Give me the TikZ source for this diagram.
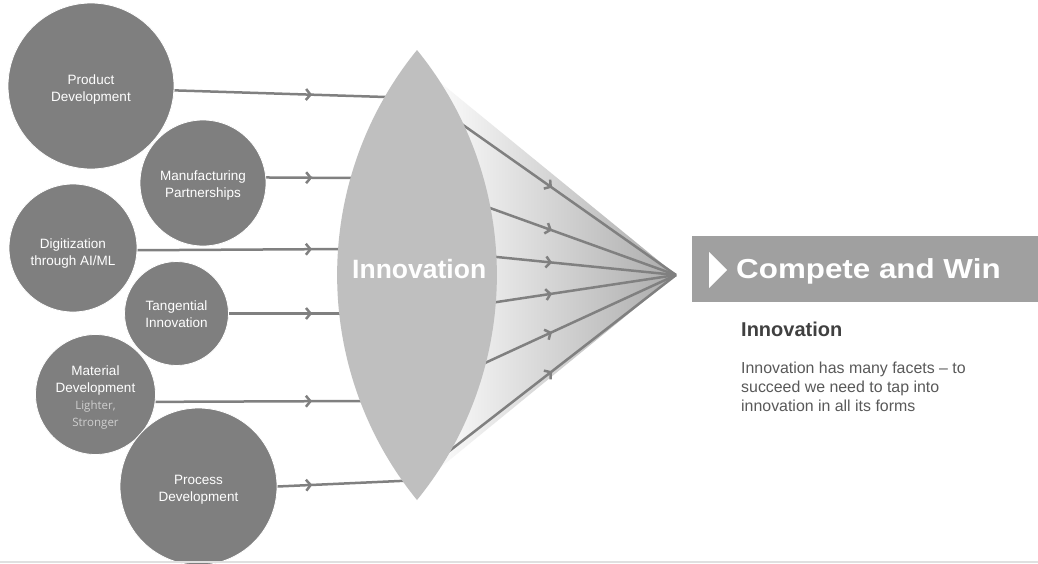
\documentclass[tikz,border=0pt]{standalone}
\usepackage{fontspec}
\setmainfont{Liberation Sans}
\newfontfamily\osans{Open Sans}
\newcommand{\subtextfont}{\osans\fontsize{11.5}{15}\selectfont\color{subgray}}
\newcommand{\lift}[1]{\rule{0pt}{#1pt}}
\usetikzlibrary{arrows.meta,decorations.markings}
\definecolor{circgray}{HTML}{7F7F7F}
\definecolor{linegray}{HTML}{808080}
\definecolor{lensgray}{HTML}{BFBFBF}
\definecolor{bannergray}{HTML}{A0A0A0}
\definecolor{headgray}{HTML}{404040}
\definecolor{bodygray}{HTML}{595959}
\definecolor{subgray}{HTML}{CFCFCF}
\definecolor{rulegray}{HTML}{E0E0E0}
\pgfdeclarelayer{fanlayer}
\pgfdeclarelayer{linelayer}
\pgfsetlayers{fanlayer,linelayer,main}
\begin{document}
\begin{tikzpicture}[x=1pt,y=-1pt,
  bubble/.style={circle, fill=circgray, draw=white, line width=0.8pt, inner sep=0pt,
    minimum size=#1, text=white, align=center, font=\fontsize{13.5}{17}\selectfont},
  conn/.style={draw=linegray, line width=2.5pt},
  midarrow/.style={postaction={decorate}, decoration={markings,
    mark=at position #1 with {\arrow{Straight Barb[length=4.5pt,width=11pt]}}}}
]
\useasboundingbox (0,0) rectangle (1038,563);
\begin{pgfonlayer}{fanlayer}
  \fill[white] (0,0) rectangle (1038,563);
\end{pgfonlayer}

% source bubbles
\node[bubble=166pt] (pd) at (91,86) {\lift{16}Product\\Development};
\node[bubble=126pt] (mp) at (203,183) {\lift{15.5}Manufacturing\\Partnerships};
\node[bubble=128pt] (dg) at (73,248) {\lift{21.5}Digitization\\through AI/ML};
\node[bubble=104pt] (ti) at (176.5,313.5) {\lift{11.5}Tangential\\Innovation};
\node[bubble=120pt] (md) at (95.5,394.5) {\lift{15.5}Material\\Development\\{\subtextfont Lighter,}\\{\subtextfont Stronger}};
\node[bubble=157pt] (pr) at (198.5,486.5) {\lift{15.5}Process\\Development};

% lens
\coordinate (ltop) at (417,50);
\coordinate (lbot) at (417,500);
\coordinate (apex) at (676,275);
\fill[lensgray] (ltop) .. controls (523.5,180.8) and (523.5,369.2) .. (lbot)
   .. controls (310.5,369.2) and (310.5,180.8) .. (ltop) -- cycle;
\node[anchor=base, inner sep=0pt, text=white, font=\bfseries\fontsize{26.5}{30}\selectfont] (inno) at (419.2,278.3) {Innovation};

% fan shading
\begin{pgfonlayer}{fanlayer}
  \shade[left color=white, right color=black!33] (425,70) -- (apex) -- (425,480) -- cycle;
\end{pgfonlayer}

% left connector ends (inside lens)
\coordinate (e1) at (392,97.2);
\coordinate (e2) at (356,178);
\coordinate (e3) at (345,249);
\coordinate (e4) at (345,313.5);
\coordinate (e5) at (362,401);
\coordinate (e6) at (406,480.7);
% fan starts (inside lens)
\coordinate (s1) at (456.5,120.4);
\coordinate (s2) at (482.5,205.3);
\coordinate (s3) at (489,256.2);
\coordinate (s4) at (489,303.2);
\coordinate (s5) at (479.7,365.4);
\coordinate (s6) at (441.7,456.9);

\begin{pgfonlayer}{linelayer}
  \path[conn, midarrow=0.633] (pd.-3) -- (e1);
  \path[conn, midarrow=0.513] (mp.5) -- (e2);
  \path[conn, midarrow=0.841] (dg.-2) -- (e3);
  \path[conn, midarrow=0.717] (ti.0) -- (e4);
  \path[conn, midarrow=0.758] (md.-7) -- (e5);
  \path[conn, midarrow=0.271] (pr.0) -- (e6);
  \path[conn, midarrow=0.435] (s1) -- (apex);
  \path[conn, midarrow=0.359] (s2) -- (apex);
  \path[conn, midarrow=0.337] (s3) -- (apex);
  \path[conn, midarrow=0.337] (s4) -- (apex);
  \path[conn, midarrow=0.368] (s5) -- (apex);
  \path[conn, midarrow=0.471] (s6) -- (apex);
\end{pgfonlayer}

% banner
\node[fill=bannergray, minimum width=346pt, minimum height=66pt, inner sep=0pt, anchor=north west] (banner) at (692,236) {};
\fill[white] (709,252) -- (727,270) -- (709,288) -- cycle;
\node[anchor=base west, inner sep=0pt, text=white, font=\bfseries\fontsize{27.5}{30}\selectfont] (cw) at (736,278.5) {\scalebox{1.14}[1]{Compete and Win}};

% right text
\node[anchor=base west, inner sep=0pt, text=headgray, font=\bfseries\fontsize{20}{24}\selectfont] (head) at (741,336.7) {Innovation};
\node[anchor=base west, inner sep=0pt, text=bodygray, align=left, font=\fontsize{15.9}{19}\selectfont] (body) at (741,411) {Innovation has many facets – to\\succeed we need to tap into\\innovation in all its forms};

% bottom rule
\draw[rulegray, line width=1.5pt] (0,562) -- (1038,562);
\end{tikzpicture}
\end{document}
